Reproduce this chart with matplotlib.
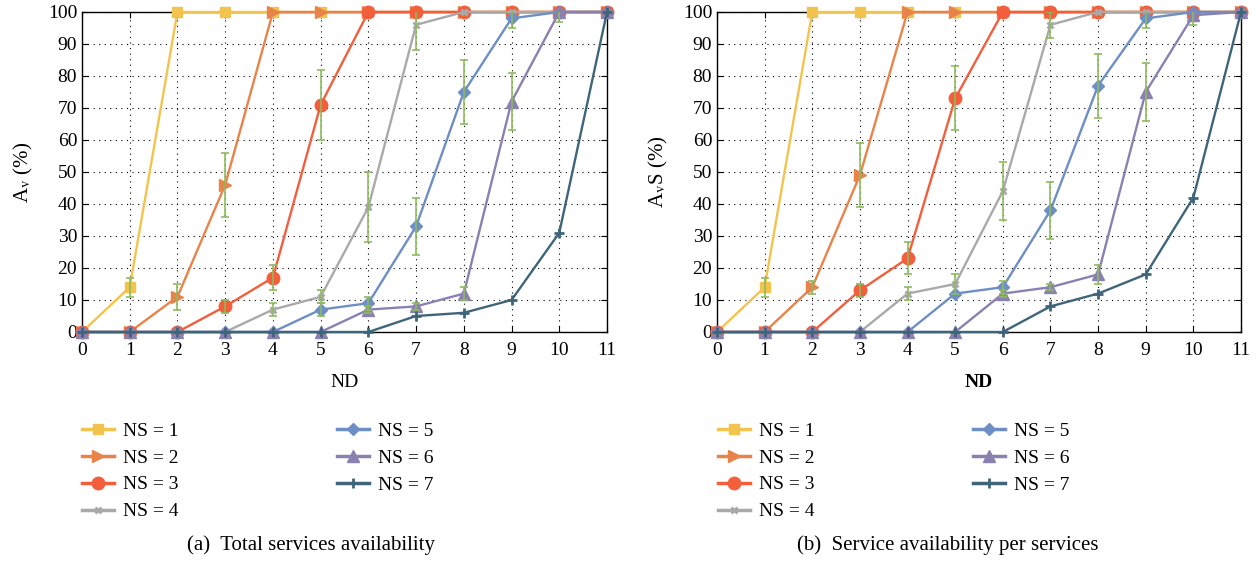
import numpy as np
import matplotlib
matplotlib.use("Agg")
import matplotlib.pyplot as plt
from matplotlib.lines import Line2D

plt.rcParams['font.family'] = ['Liberation Serif', 'DejaVu Serif']
plt.rcParams['mathtext.fontset'] = 'stix'

nd = list(range(12))
labels = ["NS = 1", "NS = 2", "NS = 3", "NS = 4", "NS = 5", "NS = 6", "NS = 7"]
colors = ["#f3c44d", "#e8834a", "#f35e3d", "#a9a9a9", "#6d8fc5", "#8a81b1", "#3e6579"]
markers = ["s", ">", "o", "x", "D", "^", "+"]
msizes = [6.5, 9, 9, 5, 6.5, 9, 7.5]

# (a) total services availability
avail_a = [
    [0, 14, 100, 100, 100, 100, 100, 100, 100, 100, 100, 100],
    [0, 0, 11, 46, 100, 100, 100, 100, 100, 100, 100, 100],
    [0, 0, 0, 8, 17, 71, 100, 100, 100, 100, 100, 100],
    [0, 0, 0, 0, 7, 11, 39, 96, 100, 100, 100, 100],
    [0, 0, 0, 0, 0, 7, 9, 33, 75, 98, 100, 100],
    [0, 0, 0, 0, 0, 0, 7, 8, 12, 72, 100, 100],
    [0, 0, 0, 0, 0, 0, 0, 5, 6, 10, 31, 100],
]
err_a = [
    [0, 3, 0, 0, 0, 0, 0, 0, 0, 0, 0, 0],
    [0, 0, 4, 10, 0, 0, 0, 0, 0, 0, 0, 0],
    [0, 0, 0, 2, 4, 11, 0, 0, 0, 0, 0, 0],
    [0, 0, 0, 0, 2, 2, 11, 8, 0, 0, 0, 0],
    [0, 0, 0, 0, 0, 2, 2, 9, 10, 3, 0, 0],
    [0, 0, 0, 0, 0, 0, 1, 1, 2, 9, 3, 0],
    [0, 0, 0, 0, 0, 0, 0, 0, 0, 0, 0, 0],
]

# (b) service availability per services
avail_b = [
    [0, 14, 100, 100, 100, 100, 100, 100, 100, 100, 100, 100],
    [0, 0, 14, 49, 100, 100, 100, 100, 100, 100, 100, 100],
    [0, 0, 0, 13, 23, 73, 100, 100, 100, 100, 100, 100],
    [0, 0, 0, 0, 12, 15, 44, 96, 100, 100, 100, 100],
    [0, 0, 0, 0, 0, 12, 14, 38, 77, 98, 100, 100],
    [0, 0, 0, 0, 0, 0, 12, 14, 18, 75, 99, 100],
    [0, 0, 0, 0, 0, 0, 0, 8, 12, 18, 42, 100],
]
err_b = [
    [0, 3, 0, 0, 0, 0, 0, 0, 0, 0, 0, 0],
    [0, 0, 2, 10, 0, 0, 0, 0, 0, 0, 0, 0],
    [0, 0, 0, 2, 5, 10, 0, 0, 0, 0, 0, 0],
    [0, 0, 0, 0, 2, 3, 9, 4, 0, 0, 0, 0],
    [0, 0, 0, 0, 0, 0, 2, 9, 10, 3, 0, 0],
    [0, 0, 0, 0, 0, 0, 1, 1, 3, 9, 3, 0],
    [0, 0, 0, 0, 0, 0, 0, 0, 0, 0, 0, 0],
]

err_color = "#8dbb5c"


def draw_panel(ax, avail, errs, ylabel, xbold):
    for i in range(len(avail)):
        ax.plot(nd, avail[i], color=colors[i], marker=markers[i], ms=msizes[i],
                mew=2 if markers[i] in "x+" else 1, lw=1.7, clip_on=False, zorder=3 + i)
    for i in range(len(avail)):
        e = np.array(errs[i])
        m = e > 0
        if m.any():
            ax.errorbar(np.array(nd)[m], np.array(avail[i])[m], yerr=e[m], fmt="none",
                        ecolor=err_color, elinewidth=1.2, capsize=3, capthick=1.2, zorder=20)
    ax.set_xlim(0, 11)
    ax.set_ylim(0, 100)
    ax.set_xticks(nd)
    ax.set_yticks(range(0, 101, 10))
    ax.grid(True, linestyle=(0, (1, 4)), color="black", lw=0.8)
    ax.tick_params(direction="in", top=True, right=True, labelsize=14, length=4)
    ax.tick_params(axis="x", pad=7)
    for s in ax.spines.values():
        s.set_linewidth(1.0)
    ax.set_ylabel(ylabel, fontsize=15, labelpad=9)
    ax.set_xlabel("ND", fontsize=14, labelpad=11, fontweight="bold" if xbold else "normal")


fig = plt.figure(figsize=(12.56, 5.61), dpi=100)
ax1 = fig.add_axes([82 / 1256, 1 - 332 / 561, 525 / 1256, 320 / 561])
ax2 = fig.add_axes([717 / 1256, 1 - 332 / 561, 524 / 1256, 320 / 561])

draw_panel(ax1, avail_a, err_a, r"A$_\mathrm{v}$ (%)", False)
draw_panel(ax2, avail_b, err_b, r"A$_\mathrm{v}$S (%)", True)

handles = [Line2D([], [], color=colors[i], marker=markers[i], ms=msizes[i],
                  mew=2 if markers[i] in "x+" else 1, lw=2.5) for i in range(7)]

for x0 in (82, 718):
    fig.legend(handles, labels, loc="upper left", bbox_to_anchor=(x0 / 1256, 1 - 422 / 561),
               ncol=2, frameon=False, fontsize=14, handlelength=1.65, handletextpad=0.45,
               columnspacing=8.15, labelspacing=0.48, borderpad=0, borderaxespad=0)

fig.text(311 / 1256, 1 - 545 / 561, "(a)  Total services availability", ha="center", va="center", fontsize=15)
fig.text(948 / 1256, 1 - 545 / 561, "(b)  Service availability per services", ha="center", va="center", fontsize=15)

fig.savefig("out.png", dpi=100)
